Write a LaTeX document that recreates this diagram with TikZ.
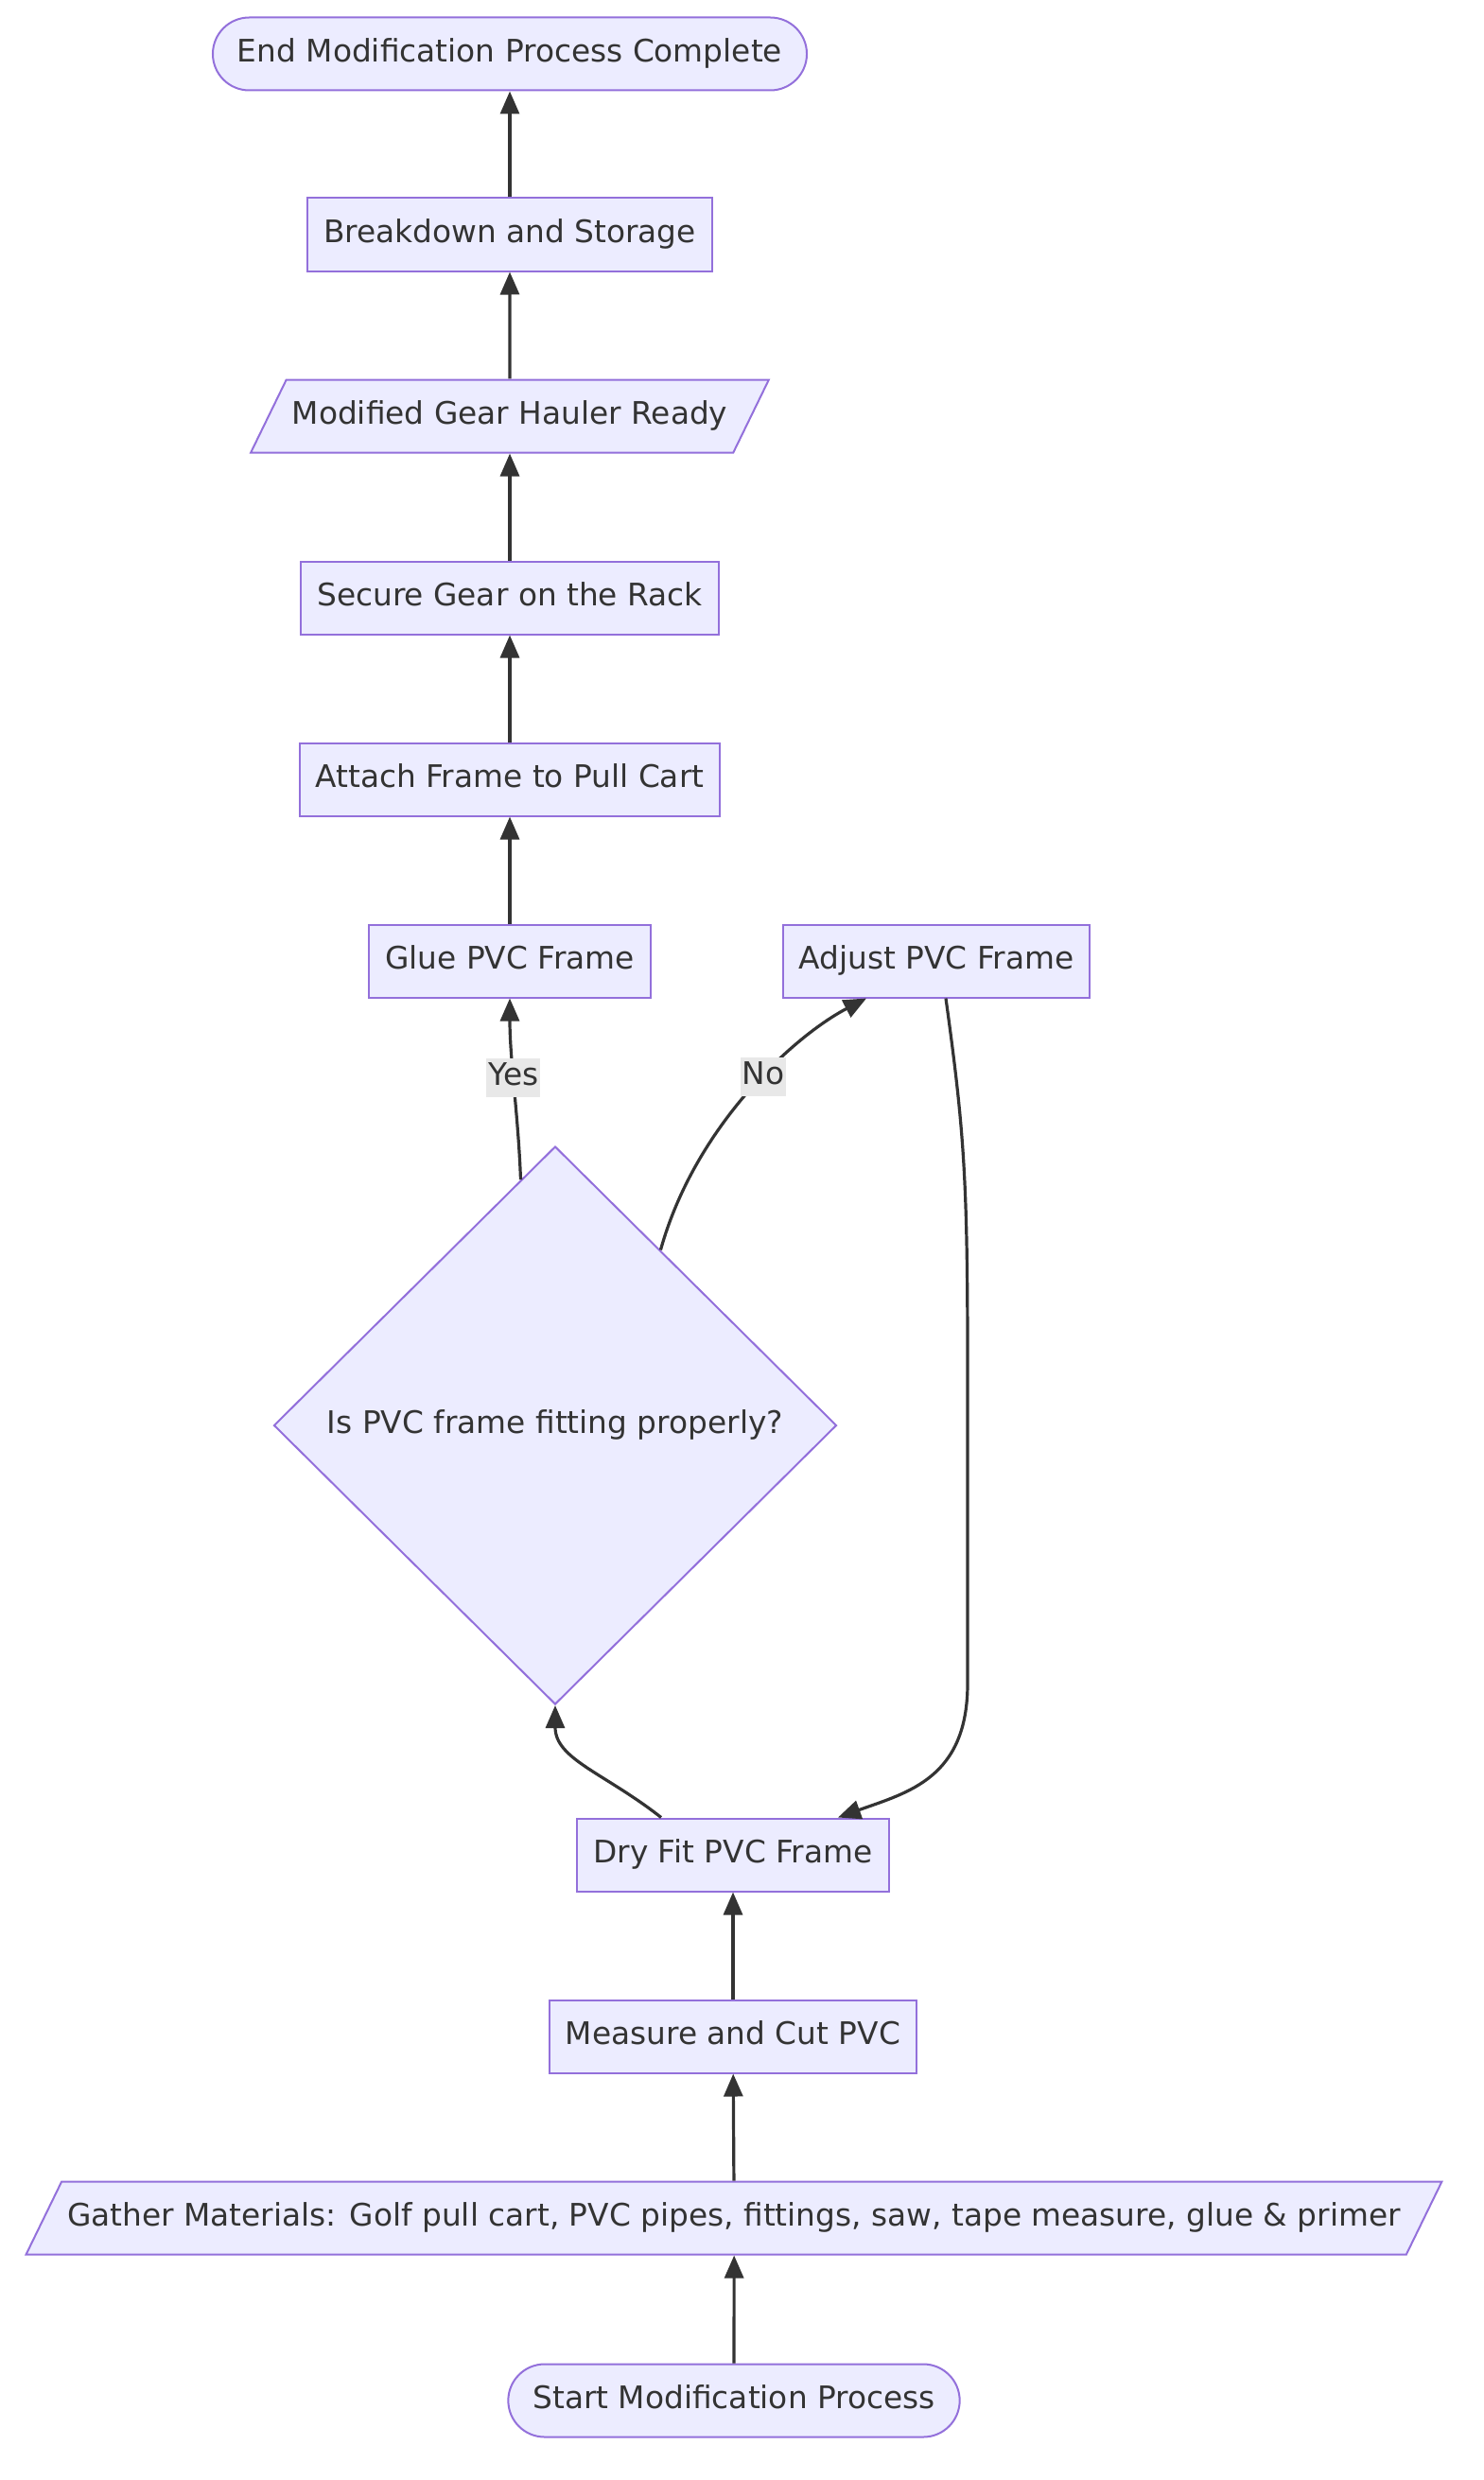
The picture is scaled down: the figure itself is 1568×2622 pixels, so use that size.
\documentclass[tikz,border=0pt]{standalone}
\usepackage{fontspec}
\setmainfont{DejaVu Sans}
\usetikzlibrary{shapes.geometric,arrows.meta,calc}
\definecolor{nodefill}{HTML}{ECECFF}
\definecolor{nodeline}{HTML}{9370DB}
\definecolor{inkcol}{HTML}{333333}
\definecolor{labelbg}{HTML}{E8E8E8}

\begin{document}
\begin{tikzpicture}[x=0.5pt,y=-0.5pt]
        \tikzstyle{base node}=[draw=nodeline,fill=nodefill,line width=1pt,text=inkcol,font=\fontsize{16.4}{19}\selectfont,text height=12pt,text depth=3.5pt,inner ysep=11.5pt]
        \tikzstyle{box node}=[base node,rectangle,inner xsep=8.5pt]
        \tikzstyle{term node}=[base node,rectangle,rounded corners=19.25pt,inner xsep=13pt]
        \tikzstyle{io node}=[base node,trapezium,trapezium left angle=64,trapezium right angle=116,inner xsep=3pt]
        \tikzstyle{dec node}=[base node,diamond,inner sep=0pt,minimum width=297.5pt,minimum height=295pt]
        \tikzstyle{flow}=[draw=inkcol,line width=1.6pt,-{Triangle[length=12pt,width=10pt]}]
        \tikzstyle{edge label}=[fill=labelbg,text=inkcol,font=\fontsize{16.4}{19}\selectfont,text height=12pt,text depth=3.5pt,inner xsep=1pt,inner ysep=2.5pt]

        \useasboundingbox (0,0) rectangle (1568,2622);

        % Nodes, from start (bottom) to end (top)
        \node[term node] (start) at (776,2538) {Start Modification Process};
        \node[io node] (gather) at (776,2345) {Gather Materials: Golf pull cart, PVC pipes, fittings, saw, tape measure, glue \& primer};
        \node[box node] (measure) at (775,2153) {Measure and Cut PVC};
        \node[box node] (dry) at (775,1961) {Dry Fit PVC Frame};
        \node[dec node] (dec) at (587,1507) {Is PVC frame fitting properly?};
        \node[box node] (glue) at (539,1016) {Glue PVC Frame};
        \node[box node] (adjust) at (990,1016) {Adjust PVC Frame};
        \node[box node] (attach) at (539,824) {Attach Frame to Pull Cart};
        \node[box node] (secure) at (539,632) {Secure Gear on the Rack};
        \node[io node] (ready) at (539,440) {Modified Gear Hauler Ready};
        \node[box node] (store) at (539,248) {Breakdown and Storage};
        \node[term node] (end) at (539,57) {End Modification Process Complete};

        % Straight steps
        \draw[flow] (start) -- (gather);
        \draw[flow] (gather) -- (measure);
        \draw[flow] (measure) -- (dry);
        \draw[flow] (glue) -- (attach);
        \draw[flow] (attach) -- (secure);
        \draw[flow] (secure) -- (ready);
        \draw[flow] (ready) -- (store);
        \draw[flow] (store) -- (end);

        % Check loop
        \draw[flow] ($(dry.north)+(-76,0)$) .. controls (640,1875) and (587,1860) .. (dec.south);
        \draw[flow] (dec.98) .. controls (548,1180) and (539,1120) .. (glue.south)
                node[edge label,pos=0.56] {Yes};
        \draw[flow] (dec.59) .. controls (735,1190) and (840,1095) .. ($(adjust.south)+(-74,0)$)
                node[edge label,pos=0.56] {No};
        \draw[flow] ($(adjust.south)+(10,0)$) .. controls (1020,1200) and (1023,1250) .. (1023,1450)
                -- (1023,1780) .. controls (1023,1880) and (960,1895) .. ($(dry.north)+(111,0)$);
\end{tikzpicture}
\end{document}
